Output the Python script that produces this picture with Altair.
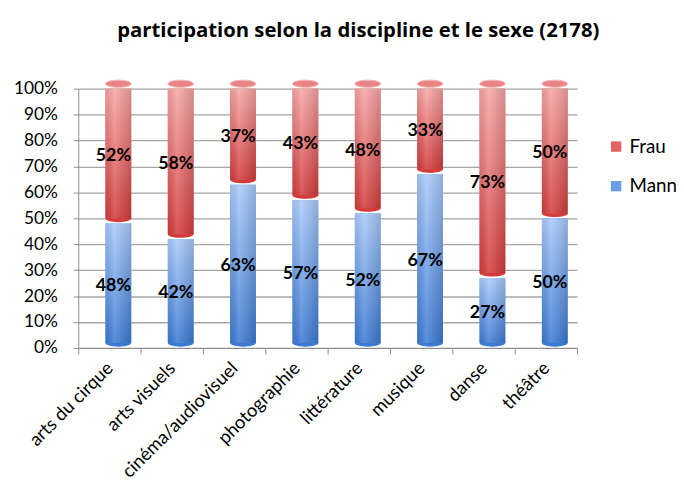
import altair as alt
import pandas as pd

categories = ["arts du cirque", "arts visuels", "cinéma/audiovisuel", "photographie",
              "littérature", "musique", "danse", "théâtre"]
mann = [48, 42, 63, 57, 52, 67, 27, 50]
frau = [52, 58, 37, 43, 48, 33, 73, 50]
series = ["Frau", "Mann"]
colors = ["#e46464", "#6a9fe8"]
y_ticks = list(range(0, 101, 10))
title_text = "participation selon la discipline et le sexe (2178)"

rows = []
for c, m, f in zip(categories, mann, frau):
    rows.append(dict(cat=c, sex="Mann", start=0, end=m, mid=m / 2, label=f"{m}%"))
    rows.append(dict(cat=c, sex="Frau", start=m, end=m + f, mid=m + f / 2, label=f"{f}%"))
df = pd.DataFrame(rows)

FONT = "Lato"
WIDE = "Open Sans"
BW = 26
XO = 9
YO = -5
ELL = "M -1 0 A 1 0.28 0 1 0 1 0 A 1 0.28 0 1 0 -1 0 Z"

x = alt.X("cat:N", sort=categories, title=None,
          scale=alt.Scale(paddingInner=0, paddingOuter=0),
          axis=alt.Axis(labelAngle=-45, labelFontSize=18.5, labelFont=FONT,
                        labelColor="#000000", labelPadding=11, tickBand="extent",
                        tickColor="#8c8c8c", tickSize=6, domainColor="#8c8c8c",
                        labelAlign="right", labelBaseline="middle"))
yaxis = alt.Axis(values=y_ticks, labelExpr="datum.value + '%'", labelOverlap=False,
                 labelFontSize=17.5, labelColor="#000000", labelPadding=16,
                 gridColor="#a6a6a6", gridWidth=1.3, tickColor="#8c8c8c",
                 tickSize=5, domainColor="#8c8c8c")
yscale = alt.Scale(domain=[0, 100])


def Y(field):
    return alt.Y(field, title=None, scale=yscale, axis=yaxis)


base = alt.Chart(df)

bars = base.mark_bar(size=BW, xOffset=XO, yOffset=YO).encode(
    x=x, y=Y("start:Q"), y2="end:Q",
    color=alt.Color("sex:N", scale=alt.Scale(domain=series, range=colors),
                    legend=alt.Legend(title=None, orient="none", legendX=534, legendY=49,
                                      symbolType="square", symbolSize=110,
                                      labelFontSize=19, labelFont=FONT,
                                      labelColor="#000000",
                                      rowPadding=20, symbolStrokeWidth=0)),
)


def vgrad(top, bottom):
    return alt.Gradient(gradient="linear", x1=0, x2=0, y1=0, y2=1,
                        stops=[alt.GradientStop(offset=0, color=top),
                               alt.GradientStop(offset=1, color=bottom)])


mann_bars = base.transform_filter(alt.datum.sex == "Mann").mark_bar(
    size=BW, xOffset=XO, yOffset=YO, fill=vgrad("#aacbfb", "#3c7ad4")).encode(
    x=x, y=Y("start:Q"), y2="end:Q")

frau_bars = base.transform_filter(alt.datum.sex == "Frau").mark_bar(
    size=BW, xOffset=XO, yOffset=YO, fill=vgrad("#f8a6a6", "#d43c3c")).encode(
    x=x, y=Y("start:Q"), y2="end:Q")

seam = base.transform_filter(alt.datum.sex == "Frau").mark_point(
    shape=ELL, size=BW * BW, filled=True, fill="#d43c3c", opacity=1,
    xOffset=XO, yOffset=YO).encode(x=x, y=Y("start:Q"))

hgrad = base.mark_bar(size=BW, xOffset=XO, yOffset=YO, fill=alt.Gradient(
    gradient="linear", x1=0, x2=1, y1=0, y2=0,
    stops=[alt.GradientStop(offset=0, color="rgba(0,0,0,0.08)"),
           alt.GradientStop(offset=0.35, color="rgba(255,255,255,0.14)"),
           alt.GradientStop(offset=1, color="rgba(0,0,0,0.14)")])).encode(
    x=x, y=Y("start:Q"), y2="end:Q")

top_caps = base.transform_filter(alt.datum.sex == "Frau").mark_point(
    shape=ELL, size=BW * BW, filled=True, fill="#ea8585", stroke="#f6b8b8",
    strokeWidth=1, opacity=1, xOffset=XO, yOffset=YO).encode(
    x=x, y=Y("end:Q"))

bottom_caps = base.transform_filter(alt.datum.sex == "Mann").mark_point(
    shape=ELL, size=BW * BW, filled=True, fill="#3c7ad4", opacity=1,
    xOffset=XO, yOffset=YO).encode(x=x, y=Y("start:Q"))

labels = base.mark_text(fontSize=18, fontWeight="bold", color="#000000", dx=4).encode(
    x=x, y=Y("mid:Q"), text="label:N")

chart = alt.layer(bottom_caps, bars, mann_bars, frau_bars, seam, hgrad, top_caps,
                  labels).properties(
    width=504, height=262,
    title=alt.Title(title_text, fontSize=20.5, fontWeight="bold", color="#000000",
                    font=WIDE, offset=37, dx=31, anchor="middle"),
    padding={"left": 71, "top": 79, "right": 100, "bottom": 143},
    autosize="none",
    background="#ffffff",
).configure(font=FONT).configure_view(stroke=None)

chart.save("out.html", embed_options={"renderer": "svg", "actions": False})
